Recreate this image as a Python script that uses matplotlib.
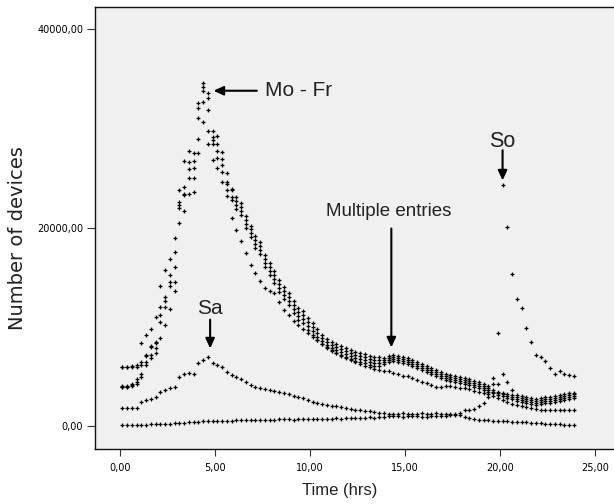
import numpy as np
import matplotlib
matplotlib.use("Agg")
import matplotlib.pyplot as plt

# 15-minute bins over the day (hours)
hours = np.arange(0.125, 24.0, 0.25)

# values in thousands of devices
mo_fr_1 = [5.95, 5.97, 6.00, 6.10, 8.31, 9.15, 9.73, 11.00, 14.10, 15.71, 16.82, 18.91, 23.80, 26.71, 27.72, 27.49, 32.53, 34.62, 33.54, 29.74, 29.23, 27.66, 25.48, 23.88,
           23.1, 22.5, 21.2, 20.2, 19.1, 18.5, 17.2, 16.4, 15.6, 14.7, 14.0, 13.4, 12.6, 11.9, 11.6, 10.9, 10.4, 9.8,
           9.15, 8.75, 8.45, 8.25, 8.05, 7.8, 7.6, 7.45, 7.35, 7.2, 7.0, 6.95, 6.9,
           6.85, 7.05, 7.1, 7.0, 6.95, 6.85, 6.65, 6.45, 6.25, 6.05, 5.85, 5.65, 5.4, 5.25, 5.15, 5.0, 4.9, 4.8, 4.7, 4.55, 4.4, 4.24, 4.05,
           4.78, 4.2, 5.2, 4.44, 3.6, 3.1, 2.95, 2.85, 2.75, 2.7, 2.8, 2.85, 2.9, 2.95, 3.1, 3.2, 3.3, 3.35]
mo_fr_2 = [5.90, 5.92, 5.95, 5.95, 6.46, 7.13, 8.00, 8.48, 12.01, 13.02, 15.20, 17.50, 22.60, 24.12, 26.58, 26.70, 32.03, 34.21, 33.04, 29.16, 28.39, 26.89, 24.64, 23.80,
           22.7, 22.1, 20.8, 19.8, 18.7, 18.1, 16.8, 16.0, 15.2, 14.3, 13.6, 13.0, 12.2, 11.5, 11.2, 10.5, 10.0, 9.4,
           8.85, 8.45, 8.15, 7.95, 7.75, 7.5, 7.3, 7.15, 7.05, 6.9, 6.7, 6.65, 6.6,
           6.65, 6.85, 6.9, 6.8, 6.75, 6.65, 6.45, 6.25, 6.05, 5.85, 5.65, 5.45, 5.2, 5.05, 4.95, 4.8, 4.7, 4.6, 4.5, 4.35, 4.2, 4.04, 3.85,
           3.65, 3.45, 3.35, 3.2, 3.05, 2.9, 2.75, 2.65, 2.55, 2.5, 2.6, 2.65, 2.7, 2.75, 2.9, 3.0, 3.1, 3.15]
mo_fr_3 = [3.98, 4.00, 4.25, 4.67, 6.10, 6.99, 7.97, 8.30, 11.17, 12.60, 14.53, 15.98, 22.27, 23.38, 25.90, 25.97, 31.02, 33.80, 31.86, 28.83, 27.72, 26.32, 24.39, 23.12,
           22.3, 21.7, 20.4, 19.4, 18.3, 17.7, 16.4, 15.6, 14.8, 13.9, 13.2, 12.6, 11.8, 11.1, 10.8, 10.1, 9.6, 9.0,
           8.55, 8.15, 7.85, 7.65, 7.45, 7.2, 7.0, 6.85, 6.75, 6.6, 6.4, 6.35, 6.3,
           6.45, 6.65, 6.7, 6.6, 6.55, 6.45, 6.25, 6.05, 5.85, 5.65, 5.45, 5.25, 5.0, 4.85, 4.75, 4.6, 4.5, 4.4, 4.3, 4.15, 4.0, 3.84, 3.65,
           3.45, 3.25, 3.15, 3.0, 2.85, 2.7, 2.55, 2.45, 2.35, 2.3, 2.4, 2.45, 2.5, 2.55, 2.7, 2.8, 2.9, 2.95]
mo_fr_4 = [3.94, 3.94, 4.10, 4.45, 5.20, 6.40, 7.13, 7.81, 10.50, 12.01, 14.10, 14.53, 21.94, 23.28, 25.03, 25.03, 28.90, 32.70, 29.74, 28.39, 26.98, 25.64, 23.80, 22.79,
           21.9, 21.3, 20.0, 19.0, 17.9, 17.3, 16.0, 15.2, 14.4, 13.5, 12.8, 12.2, 11.4, 10.7, 10.4, 9.7, 9.2, 8.6,
           8.25, 7.85, 7.55, 7.35, 7.15, 6.9, 6.7, 6.55, 6.45, 6.3, 6.1, 6.05, 6.0,
           6.25, 6.45, 6.5, 6.4, 6.35, 6.25, 6.05, 5.85, 5.65, 5.45, 5.25, 5.05, 4.8, 4.65, 4.55, 4.4, 4.3, 4.2, 4.1, 3.95, 3.8, 3.64, 3.45,
           3.25, 3.05, 2.95, 2.8, 2.65, 2.5, 2.35, 2.25, 2.15, 2.1, 2.2, 2.25, 2.3, 2.35, 2.5, 2.6, 2.7, 2.75]
mo_fr_5 = [3.90, 3.90, 4.00, 4.20, 4.90, 6.15, 6.80, 7.30, 8.80, 10.20, 11.80, 13.60, 20.42, 21.70, 23.38, 23.60, 27.50, 30.68, 28.39, 26.81, 25.97, 24.60, 23.21, 21.00,
           19.76, 18.6, 17.41, 16.23, 15.39, 14.6, 13.88, 13.6, 13.38, 12.5, 11.7, 11.2, 10.6, 10.2, 9.8, 9.4, 9.0, 8.6,
           8.2, 7.9, 7.6, 7.3, 7.0, 6.8, 6.6, 6.4, 6.2, 6.0, 5.9, 5.75, 5.6,
           5.55, 5.5, 5.3, 5.2, 5.05, 5.0, 4.85, 4.6, 4.45, 4.3, 4.1, 3.94, 3.95, 4.0, 4.04, 3.95, 3.85, 3.77, 3.7, 3.55, 3.45, 3.33, 3.15,
           2.95, 2.76, 2.6, 2.4, 2.2, 2.09, 1.95, 1.85, 1.75, 1.65, 1.6, 1.58, 1.55, 1.58, 1.55, 1.58, 1.55, 1.58]
saturday = [1.75, 1.75, 1.75, 1.75, 2.42, 2.55, 2.70, 2.86, 3.43, 3.60, 3.77, 3.94, 4.94, 5.20, 5.35, 5.17,
            6.30, 6.60, 6.96, 6.36, 6.12, 5.9, 5.4, 5.1, 4.9, 4.7, 4.4, 4.1,
            3.95, 3.85, 3.72, 3.62, 3.5, 3.38, 3.27, 3.15, 3.02, 2.9, 2.77, 2.62,
            2.42, 2.26, 2.18, 2.1, 2.02, 1.95, 1.85, 1.77, 1.69, 1.62, 1.56, 1.5, 1.45,
            1.38, 1.3, 1.25, 1.22, 1.2, 1.22, 1.25, 1.22, 1.2, 1.22, 1.25, 1.22, 1.2, 1.25, 1.22, 1.2, 1.22, 1.2,
            1.1, 0.9, 0.74, 0.68, 0.62, 0.575, 0.54, 0.5, 0.47, 0.45, 0.43, 0.42, 0.41, 0.38, 0.35, 0.3, 0.28, 0.25, 0.22, 0.17, 0.15, 0.13, 0.1, 0.08, 0.07]
sunday = [0.07, 0.06, 0.05, 0.08, 0.10, 0.12, 0.15, 0.15, 0.18, 0.20, 0.22, 0.25, 0.30, 0.32, 0.35, 0.40, 0.42, 0.48,
          0.50, 0.47, 0.45, 0.45, 0.48, 0.50, 0.55, 0.53, 0.55, 0.575, 0.60, 0.60, 0.62, 0.60, 0.62, 0.63, 0.63, 0.65,
          0.62, 0.64, 0.65, 0.66, 0.63, 0.64, 0.70, 0.72, 0.70, 0.75, 0.72, 0.78, 0.75, 0.80, 0.78, 0.82, 0.85, 0.82,
          0.88, 0.91, 0.95, 0.93, 0.95, 0.92, 0.95, 0.93, 0.95, 0.90, 0.92, 0.95, 0.93, 0.96, 0.98, 1.05, 1.10, 1.30,
          1.60, 1.55, 1.65, 1.99, 2.26, 2.93, 4.20, 9.32, 24.29, 20.05, 15.28, 12.79, 11.84, 9.83, 8.41, 7.13, 6.90, 6.53, 5.85, 5.18, 5.55, 5.20, 5.10, 5.01]

x_ticks = [0, 5, 10, 15, 20, 25]
x_tick_labels = ["0,00", "5,00", "10,00", "15,00", "20,00", "25,00"]
y_ticks = [0, 20000, 40000]
y_tick_labels = ["0,00", "20000,00", "40000,00"]

W, H = 614, 504
fig = plt.figure(figsize=(W / 100, H / 100), dpi=100)
fig.patch.set_facecolor("white")
left, right, top, bottom = 94.7, 614.0, 7.0, 448.7
ax = fig.add_axes([left / W, 1 - bottom / H, (right - left) / W, (bottom - top) / H])
ax.set_facecolor("#f0f0f0")

for series in [mo_fr_1, mo_fr_2, mo_fr_3, mo_fr_4, mo_fr_5, saturday, sunday]:
    ax.plot(hours, np.array(series) * 1000, ls="none", marker="P", ms=2.8,
            mew=0, color="black")

ax.set_xlim(-1.33, 25.98)
ax.set_ylim(-2320, 42250)
ax.set_xticks(x_ticks)
ax.set_xticklabels(x_tick_labels)
ax.set_yticks(y_ticks)
ax.set_yticklabels(y_tick_labels)

tick_font = ["Liberation Sans Narrow", "DejaVu Sans"]
for lab in ax.get_xticklabels() + ax.get_yticklabels():
    lab.set_family(tick_font)
    lab.set_fontsize(7)
ax.tick_params(axis="y", direction="out", length=5.8, width=0.8, pad=2.5, color="#333333")
ax.tick_params(axis="x", direction="out", length=5.0, width=0.8, pad=5, color="#333333")

for s in ["left", "bottom", "top"]:
    ax.spines[s].set_linewidth(1.0)
    ax.spines[s].set_color("#111111")
ax.spines["right"].set_visible(False)

fig.text(17.7 / W, 1 - 238 / H, "Number of devices", rotation=90, ha="center",
         va="center", fontsize=14, family=["DejaVu Sans"], color="#222222")
fig.text(340 / W, 1 - 491 / H, "Time (hrs)", ha="center", va="center",
         fontsize=12, family=["Liberation Sans", "DejaVu Sans"], color="#222222")

ann_font = ["Liberation Sans", "DejaVu Sans"]
arrow_kw = dict(arrowstyle="-|>,head_length=0.65,head_width=0.3", lw=1.5,
                color="black", shrinkA=0, shrinkB=0, mutation_scale=9)

ax.text(7.62, 33800, "Mo - Fr", ha="left", va="center", fontsize=15, family=ann_font, color="#222222")
ax.annotate("", xy=(4.92, 33800), xytext=(7.2, 33800), arrowprops=arrow_kw)

ax.text(20.1, 28660, "So", ha="center", va="center", fontsize=15.5, family=ann_font, color="#222222")
ax.annotate("", xy=(20.12, 24750), xytext=(20.12, 27800), arrowprops=arrow_kw)

ax.text(14.12, 21610, "Multiple entries", ha="center", va="center", fontsize=13.5, family=ann_font, color="#222222")
ax.annotate("", xy=(14.27, 7900), xytext=(14.27, 19900), arrowprops=arrow_kw)

ax.text(4.72, 11780, "Sa", ha="center", va="center", fontsize=15, family=ann_font, color="#222222")
ax.annotate("", xy=(4.74, 7800), xytext=(4.74, 10700), arrowprops=arrow_kw)

fig.savefig("out.png", dpi=100)
